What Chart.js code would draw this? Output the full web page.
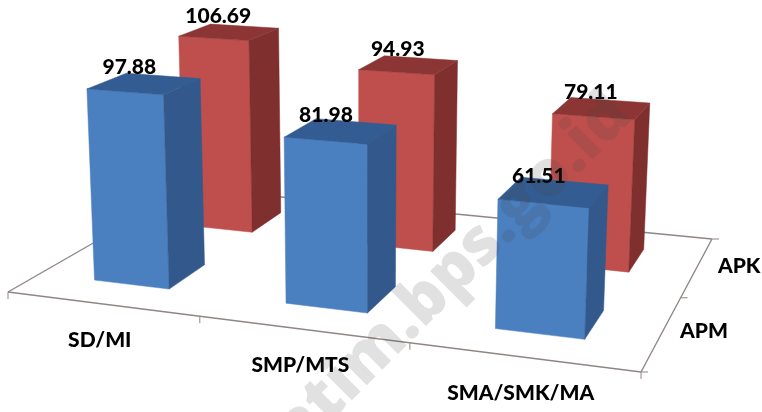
<!DOCTYPE html>
<html>
<head>
<meta charset="utf-8">
<script src="https://cdn.jsdelivr.net/npm/chart.js@4"></script>
<style>
  html, body { margin: 0; padding: 0; background: #fff; }
  canvas { display: block; }
</style>
</head>
<body>
<canvas id="myChart" width="762" height="412"></canvas>
<script>
const categories = ["SD/MI", "SMP/MTS", "SMA/SMK/MA"];
const apmValues = [97.88, 81.98, 61.51];
const apkValues = [106.69, 94.93, 79.11];
const seriesNames = ["APM", "APK"];
const watermark = "jatim.bps.go.id";

// faces of each series: front, side, top
const blueFaces = ["#4a7fc0", "#33598c", "#335c92"];
const redFaces = ["#bf4f4c", "#7f2f2e", "#8b3634"];

// floor quad as homography from (s,t) in 0..1, plus vertical vanishing point
const H = {
    a: 549.3, b: 224.1, c: 8,
    d: 31.4, e: -61.1, f: 292,
    g: -0.1306, h: 0.2281
};
const vanish = { x: 363, y: 7000, k: -1 / 6800 };

// s,t on the floor, up = pixels of height coming from the y scale
function project(s, t, up) {
    const k = vanish.k * up;
    const w = H.g * s + H.h * t + 1 + k;
    return {
        x: (H.a * s + H.b * t + H.c + vanish.x * k) / w,
        y: (H.d * s + H.e * t + H.f + vanish.y * k) / w
    };
}

function poly(ctx, pts, color) {
    ctx.beginPath();
    pts.forEach((p, i) => i ? ctx.lineTo(p.x, p.y) : ctx.moveTo(p.x, p.y));
    ctx.closePath();
    ctx.fillStyle = color;
    ctx.fill();
    ctx.strokeStyle = color;
    ctx.lineWidth = 0.5;
    ctx.stroke();
}

function segment(ctx, a, b) {
    ctx.beginPath();
    ctx.moveTo(a.x, a.y);
    ctx.lineTo(b.x, b.y);
    ctx.stroke();
}

const bars3d = {
    id: "bars3d",
    beforeDatasetsDraw(chart) {
        const ctx = chart.ctx;
        const xs = chart.scales.x;
        const n = chart.data.datasets.length;

        // floor outline and ticks
        ctx.save();
        ctx.strokeStyle = "#8f8783";
        ctx.lineWidth = 1.4;
        segment(ctx, project(0, 0, 0), project(1, 0, 0));
        segment(ctx, project(1, 0, 0), project(1, 1, 0));
        segment(ctx, project(1, 1, 0), project(0, 1, 0));
        segment(ctx, project(0, 1, 0), project(0, 0, 0));
        ctx.lineWidth = 1;
        for (let i = 0; i <= categories.length; i++) {
            const p = project(i / categories.length, 0, 0);
            segment(ctx, p, { x: p.x, y: p.y + 7 });
        }
        for (let i = 0; i <= n; i++) {
            const p = project(1, i / n, 0);
            segment(ctx, p, { x: p.x + 7, y: p.y });
        }

        // back row first so the front row covers it
        for (let d = n - 1; d >= 0; d--) {
            const ds = chart.data.datasets[d];
            const meta = chart.getDatasetMeta(d);
            const t0 = (d + 0.5) / n - ds.depth / n / 2;
            const t1 = (d + 0.5) / n + ds.depth / n / 2;
            meta.data.forEach((bar) => {
                const s0 = (bar.x - bar.width / 2 - xs.left) / xs.width;
                const s1 = (bar.x + bar.width / 2 - xs.left) / xs.width;
                const up = bar.base - bar.y;
                const [front, side, top] = ds.faces;
                poly(ctx, [project(s0, t0, 0), project(s1, t0, 0), project(s1, t0, up), project(s0, t0, up)], front);
                poly(ctx, [project(s1, t0, 0), project(s1, t1, 0), project(s1, t1, up), project(s1, t0, up)], side);
                poly(ctx, [project(s0, t0, up), project(s1, t0, up), project(s1, t1, up), project(s0, t1, up)], top);
            });
        }

        // value labels
        ctx.fillStyle = "#000";
        ctx.textAlign = "center";
        ctx.textBaseline = "middle";
        ctx.font = "900 21px Lato";
        for (let d = n - 1; d >= 0; d--) {
            const ds = chart.data.datasets[d];
            chart.getDatasetMeta(d).data.forEach((bar, i) => {
                const s = (bar.x - xs.left) / xs.width;
                const p = project(s, (d + 0.5) / n, bar.base - bar.y);
                ctx.fillText(ds.data[i].toFixed(2), p.x + ds.labelDx, p.y - 16);
            });
        }

        // axis labels
        categories.forEach((label, i) => {
            const p = project((i + 0.5) / categories.length, 0, 0);
            ctx.fillText(label, p.x - 2, p.y + 36);
        });
        seriesNames.forEach((label, i) => {
            const p = project(1, (i + 0.5) / n, 0);
            ctx.fillText(label, p.x + 42, p.y - 1);
        });
        ctx.restore();
        return false;
    },
    afterDraw(chart) {
        const ctx = chart.ctx;
        ctx.save();
        ctx.translate(634, 118);
        ctx.rotate(-Math.PI / 4);
        ctx.font = "800 65px 'Open Sans'";
        ctx.textAlign = "right";
        ctx.textBaseline = "alphabetic";
        ctx.fillStyle = "rgba(70,70,70,0.16)";
        ctx.fillText(watermark, 0, 0);
        ctx.restore();
    }
};

new Chart(document.getElementById("myChart"), {
    type: "bar",
    data: {
        labels: categories,
        datasets: [
            { label: seriesNames[0], data: apmValues, faces: blueFaces, depth: 0.4, labelDx: -15 },
            { label: seriesNames[1], data: apkValues, faces: redFaces, depth: 0.4, labelDx: -11 }
        ]
    },
    options: {
        responsive: false,
        animation: false,
        layout: { padding: 0 },
        grouped: false,
        categoryPercentage: 0.4,
        barPercentage: 1,
        plugins: { legend: { display: false }, tooltip: { enabled: false } },
        scales: {
            x: { display: false },
            y: { display: false, min: 0, max: 210 }
        }
    },
    plugins: [bars3d]
});
</script>
</body>
</html>
